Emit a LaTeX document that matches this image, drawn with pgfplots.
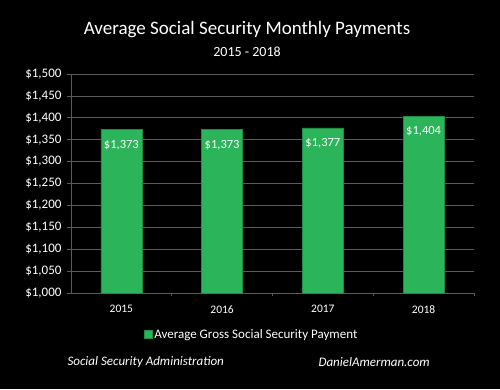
\documentclass[border=0pt]{standalone}
\usepackage{pgfplots}
\pgfplotsset{compat=1.18}
\usepackage{fontspec}
\setmainfont{Carlito}
\definecolor{bargreen}{RGB}{44,180,90}
\definecolor{bardark}{RGB}{30,140,65}
\definecolor{gridgray}{RGB}{90,90,90}
\begin{document}
\begin{tikzpicture}[x=1pt,y=1pt]
\fill[black] (0,0) rectangle (500,389);
\begin{axis}[
  at={(71pt,96pt)}, anchor=south west,
  scale only axis, width=403pt, height=219pt,
  ybar, bar width=41pt,
  xmin=-0.5, xmax=3.5, ymin=1000, ymax=1500,
  xtick={0,1,2,3}, xticklabels={2015,2016,2017,2018},
  ytick={1000,1050,...,1500},
  yticklabels={{\$1,000},{\$1,050},{\$1,100},{\$1,150},{\$1,200},{\$1,250},{\$1,300},{\$1,350},{\$1,400},{\$1,450},{\$1,500}},
  axis x line*=bottom, axis y line*=left,
  axis line style={gridgray, line width=0.8pt},
  ymajorgrids, grid style={gridgray, line width=0.8pt},
  tick align=outside, major tick length=4pt,
  tick style={gridgray, line width=0.8pt},
  x tick style={draw=none},
  extra x ticks={0.5,1.5,2.5,3.5}, extra x tick labels={},
  extra x tick style={x tick style={draw=gridgray}, major tick length=3pt, grid=none},
  x tick label style={font=\fontsize{11.5}{12}\selectfont, white, yshift=-5pt},
  y tick label style={font=\fontsize{13}{14}\selectfont, white, xshift=-2pt},
  /pgf/number format/assume math mode=true,
  point meta=y,
  nodes near coords={\$\pgfmathprintnumber[1000 sep={,}]{\pgfplotspointmeta}},
  every node near coord/.append style={anchor=north, yshift=-7pt, white, font=\fontsize{12.5}{13}\selectfont},
  legend style={at={(0.448,-0.19)}, anchor=center, draw=none, fill=none, text=white, font=\fontsize{13}{14}\selectfont, legend cell align=left},
  legend image code/.code={\fill[bargreen, draw=bardark] (0pt,-4pt) rectangle (8pt,4pt);},
  clip=false,
]
\addplot[fill=bargreen, draw=bardark, line width=0.6pt, bar shift=0pt] coordinates {(0,1373) (1,1373) (2,1377) (3,1404)};
\addlegendentry{Average Gross Social Security Payment}
\end{axis}
\node[white, font=\fontsize{19}{20}\selectfont] at (247,359) {Average Social Security Monthly Payments};
\node[white, font=\fontsize{14}{15}\selectfont] at (247,337) {2015 - 2018};
\node[white, anchor=west, font=\fontsize{13}{14}\selectfont\itshape] at (64,27) {Social Security Administration};
\node[white, anchor=west, font=\fontsize{13}{14}\selectfont\itshape] at (315,27) {DanielAmerman.com};
\end{tikzpicture}
\end{document}
